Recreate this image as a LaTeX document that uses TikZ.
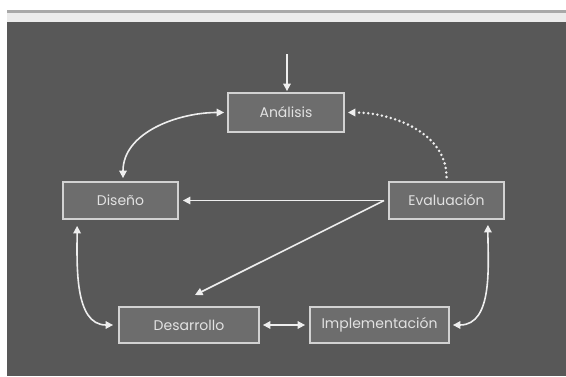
\documentclass[tikz,border=0pt]{standalone}
\usepackage{fontspec}
\setmainfont{Poppins}
\usetikzlibrary{arrows.meta}
\definecolor{bgdark}{HTML}{585858}
\definecolor{boxfill}{HTML}{6D6D6D}
\definecolor{boxline}{HTML}{D2D2D2}
\definecolor{txt}{HTML}{E2E2E2}
\definecolor{arr}{HTML}{EEEEEE}
\definecolor{band}{HTML}{EBEBEB}
\definecolor{rule}{HTML}{A8A8A8}
\begin{document}
\begin{tikzpicture}[x=1pt,y=1pt,
  box/.style={draw=boxline, line width=1.8pt, fill=boxfill, text=txt, inner sep=0pt,
    minimum height=37pt, font=\fontsize{14}{16}\selectfont},
  conn/.style={draw=arr, line width=1.6pt, -{Triangle[length=7.5pt,width=7.5pt]}},
  dconn/.style={draw=arr, line width=1.6pt, {Triangle[length=7.5pt,width=7.5pt]}-{Triangle[length=7.5pt,width=7.5pt]}},
  dotconn/.style={draw=arr, line width=2.8pt, line cap=round, dash pattern=on 0pt off 4.6pt, -{Triangle[length=7.5pt,width=7.5pt]}}]
\useasboundingbox (0,0) rectangle (566,376);
\fill[white] (0,0) rectangle (566,376);
\fill[rule] (7,363) rectangle (566,365.5);
\fill[band] (7,354) rectangle (566,363);
\fill[bgdark] (7,0) rectangle (566,354);
% nodes
\node[box, minimum width=116pt, minimum height=39pt] (ana) at (286,263.5) {Análisis};
\node[box, minimum width=115pt] (dis) at (120.5,175.5) {Diseño};
\node[box, minimum width=115pt] (eva) at (446.5,175.5) {Evaluación};
\node[box, minimum width=140pt, minimum height=36pt] (des) at (189,51) {Desarrollo};
\node[box, minimum width=139pt, minimum height=36pt] (imp) at (379.5,51) {Implementación};
\coordinate (top) at (287,322);
\coordinate (desin) at (195,81);
% connectors
\draw[conn, shorten >=1pt] (top) -- (ana.north -| top);
\draw[dconn, shorten <=3pt, shorten >=3pt] ([xshift=2.5pt]dis.north) to[out=90,in=180] (ana.west);
\draw[dotconn, shorten <=4pt, shorten >=3pt] (eva.north) to[out=90,in=0] (ana.east);
\draw[conn, shorten >=4pt] ([xshift=-4pt]eva.west) -- (dis.east);
\draw[conn] ([xshift=-4pt]eva.west) -- (desin);
\draw[dconn, shorten <=6pt, shorten >=5pt] ([xshift=15pt]dis.south west) to[out=-90,in=180] (des.west);
\draw[dconn, shorten <=3pt, shorten >=4pt] (des.east) -- (imp.east -| imp.west);
\draw[dconn, shorten <=3pt, shorten >=5pt] (imp.east) to[out=0,in=-90] ([xshift=-17pt]eva.south east);
\end{tikzpicture}
\end{document}
